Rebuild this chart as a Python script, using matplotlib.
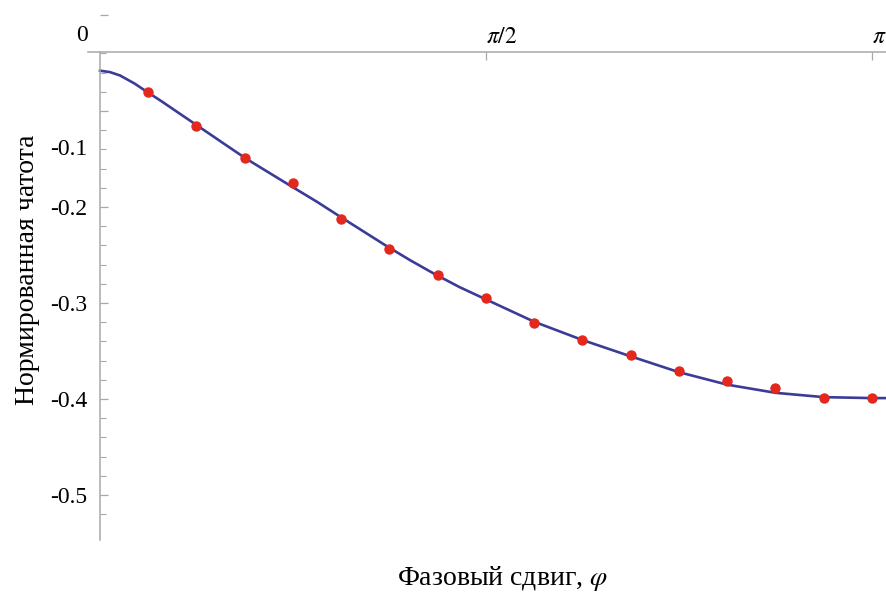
import numpy as np
import matplotlib
matplotlib.use("Agg")
import matplotlib.pyplot as plt
from matplotlib.ticker import FixedLocator
from matplotlib.transforms import ScaledTranslation

plt.rcParams['font.family'] = ['Liberation Serif', 'DejaVu Serif']
plt.rcParams['mathtext.fontset'] = 'stix'

# фаза в долях pi
curve_phase = [0, 0.013, 0.026, 0.045, 0.058, 0.080, 0.101, 0.123, 0.145, 0.166,
               0.19, 0.246, 0.281, 0.311, 0.371, 0.402, 0.434, 0.466, 0.5,
               0.5625, 0.625, 0.6875, 0.75, 0.8125, 0.875, 0.9375, 1.0, 1.02]
curve_freq = [-0.058, -0.0595, -0.063, -0.0715, -0.0785, -0.090, -0.1015, -0.1135, -0.1255, -0.137,
              -0.150, -0.1775, -0.1945, -0.210, -0.2405, -0.2555, -0.270, -0.2835, -0.2962,
              -0.3195, -0.3385, -0.3555, -0.372, -0.385, -0.3935, -0.398, -0.399, -0.399]

dot_phase = [0.0625, 0.125, 0.1875, 0.25, 0.3125, 0.375, 0.4375, 0.5,
             0.5625, 0.625, 0.6875, 0.75, 0.8125, 0.875, 0.9375, 1.0]
dot_freq = [-0.080, -0.116, -0.149, -0.175, -0.212, -0.244, -0.271, -0.295,
            -0.321, -0.338, -0.354, -0.371, -0.381, -0.388, -0.399, -0.399]

y_ticks = [0, -0.1, -0.2, -0.3, -0.4, -0.5]
y_labels = ['0', '-0.1', '-0.2', '-0.3', '-0.4', '-0.5']
x_ticks = [0.5, 1.0]
x_labels = [r'$\pi/2$', r'$\pi$']

x_axis_at = -0.0385
axis_color = '#a8a8a8'

fig = plt.figure(figsize=(8.87, 5.99), dpi=100)
ax = fig.add_axes([85 / 887, 54 / 599, 802 / 887, 535 / 599])

ax.plot(np.array(curve_phase) * np.pi, curve_freq, color='#3b3b98', lw=1.9,
        solid_joinstyle='round', zorder=2)
ax.plot(np.array(dot_phase) * np.pi, dot_freq, 'o', color='#e3281e', ms=7.5,
        mec='none', zorder=3)

ax.set_xlim(-0.061, 3.203)
ax.set_ylim(-0.552, 0.0052)

# оси в стиле Mathematica
for s in ['right', 'bottom']:
    ax.spines[s].set_visible(False)
ax.spines['left'].set_position(('data', 0))
ax.spines['left'].set_bounds(-0.547, x_axis_at)
ax.spines['top'].set_position(('data', x_axis_at))
ax.spines['top'].set_bounds(-0.05, 3.203)
for s in ['left', 'top']:
    ax.spines[s].set_color(axis_color)
    ax.spines[s].set_linewidth(1.1)

ax.xaxis.set_ticks_position('top')
ax.set_xticks(np.array(x_ticks) * np.pi)
ax.set_xticklabels(x_labels)
ax.tick_params(axis='x', direction='in', length=6, width=0.9, color=axis_color,
               labelsize=17, pad=3)
for lab in ax.get_xticklabels():
    lab.set_horizontalalignment('left')

ax.set_yticks(y_ticks)
ax.set_yticklabels(y_labels)
ax.yaxis.set_minor_locator(FixedLocator(np.arange(-0.52, -0.03, 0.02)))
ax.tick_params(axis='y', which='major', direction='in', length=6, width=0.9,
               color=axis_color, labelsize=17, pad=9)
ax.tick_params(axis='y', which='minor', direction='in', length=4, width=0.8,
               color=axis_color)

# подписи 0 и -0.1 в оригинале сдвинуты вниз
shifts = {0: 18, 1: 36}
for i, tick in enumerate(ax.yaxis.get_major_ticks()):
    if i in shifts:
        off = ScaledTranslation(0, -shifts[i] / 100, fig.dpi_scale_trans)
        tick.label1.set_transform(tick.label1.get_transform() + off)

ax.text(-0.0723, 0.514, 'Нормированная чатота', transform=ax.transAxes,
        rotation=90, ha='center', va='center', fontsize=20)
ax.text(0.52, -0.0617, r'Фазовый сдвиг, $\varphi$', transform=ax.transAxes,
        ha='center', va='center', fontsize=20)

fig.savefig('out.png', dpi=100)
